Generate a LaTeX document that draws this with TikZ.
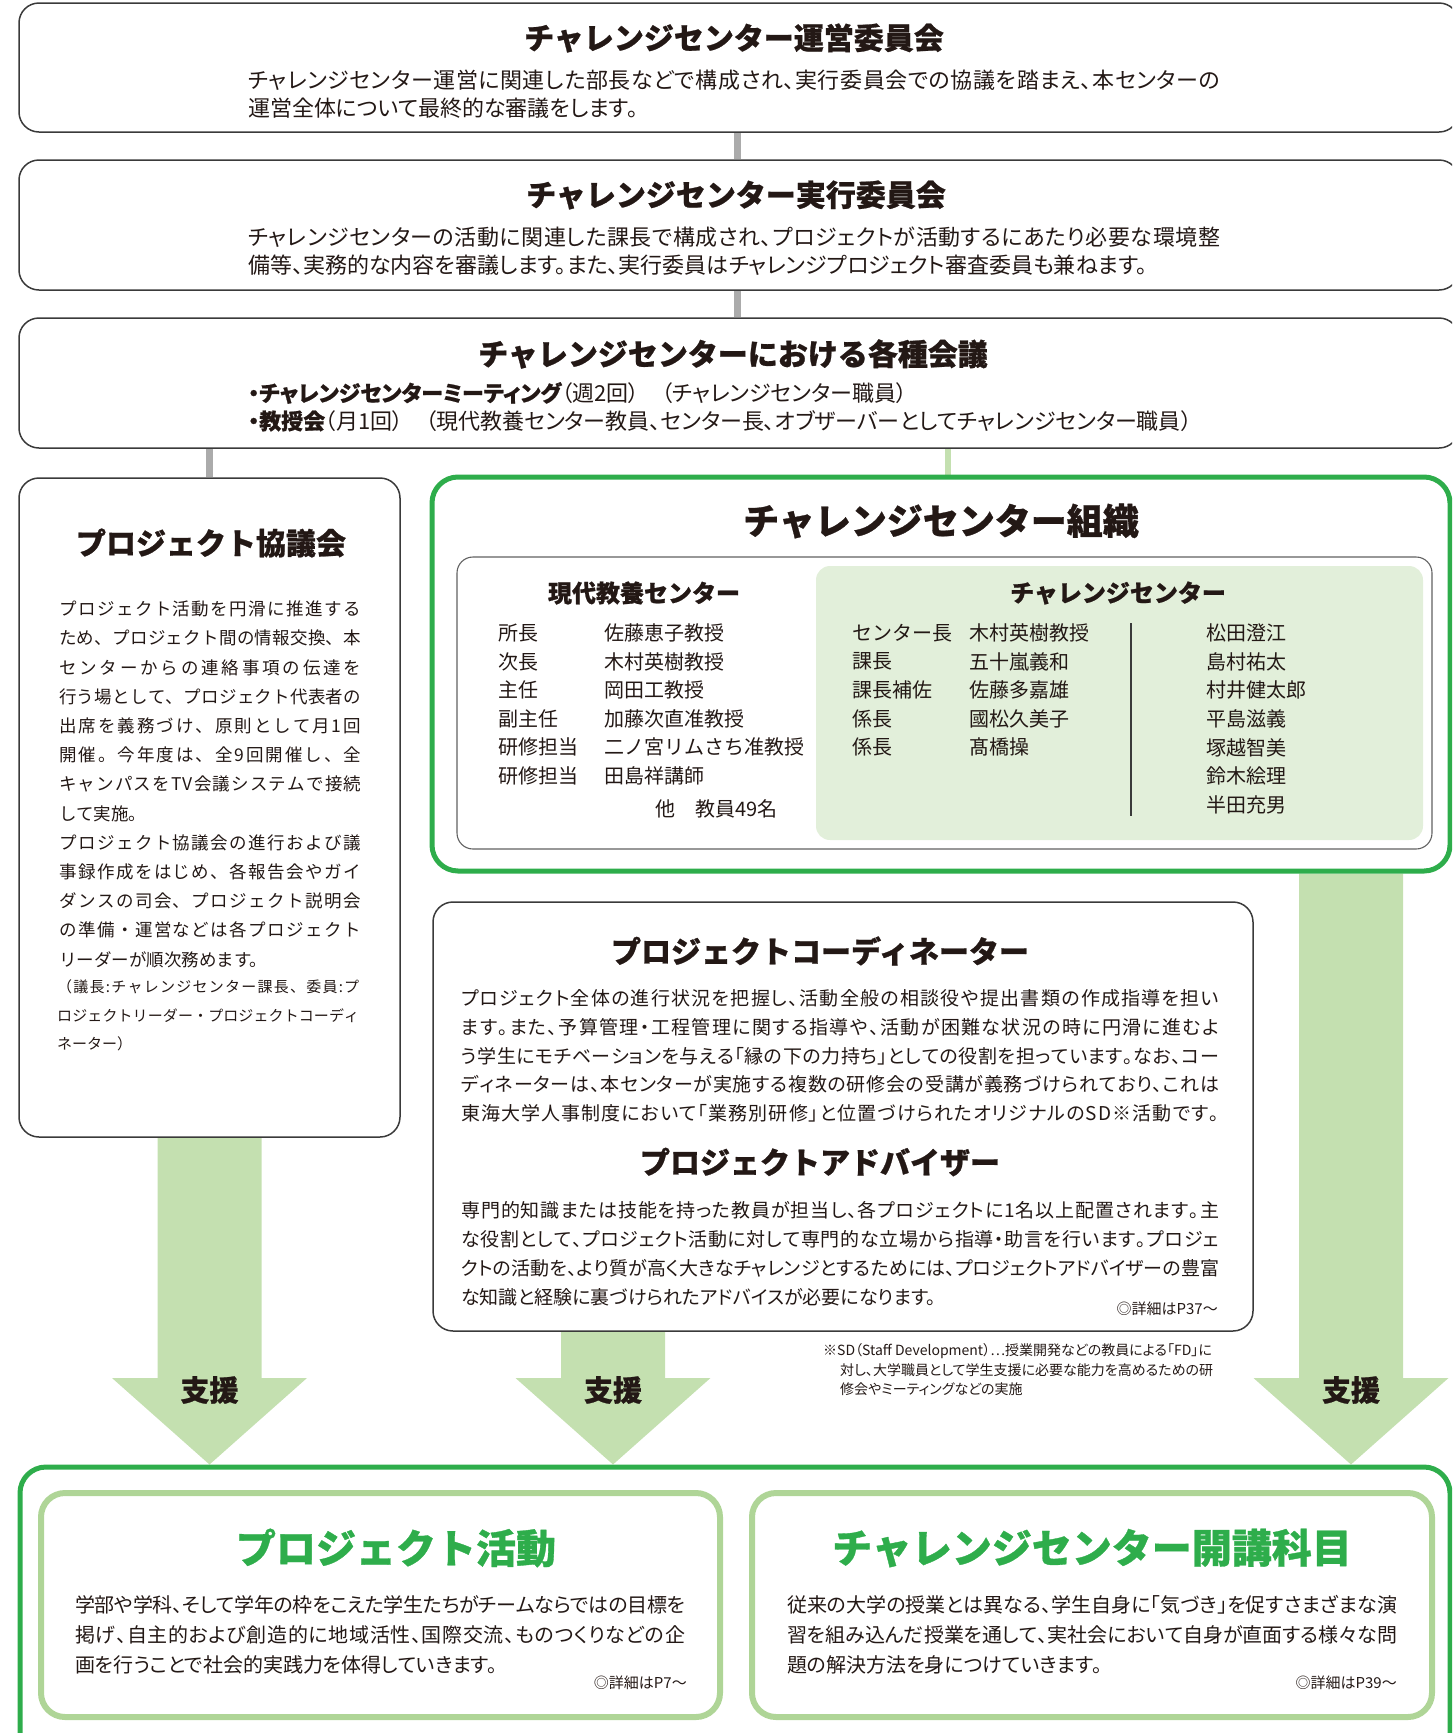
\documentclass[tikz,border=0pt]{standalone}
\usepackage{fontspec}
\setmainfont{Noto Sans CJK JP}[BoldFeatures={FakeBold=0.8}]
\newfontfamily\jpp{Noto Sans CJK JP}[RawFeature=+palt, BoldFeatures={FakeBold=0.8}]
\usetikzlibrary{calc}
\definecolor{ink}{HTML}{231815}
\definecolor{boxline}{HTML}{3A3A3A}
\definecolor{conngray}{HTML}{ABABAB}
\definecolor{brightgreen}{HTML}{2EAD4B}
\definecolor{softgreen}{HTML}{AFD597}
\definecolor{arrowgreen}{HTML}{C4E0B0}
\definecolor{palegreen}{HTML}{E2EFDA}
\newskip\jsk \jsk=0pt plus 1fil minus 1pt
\makeatletter
\def\spr@ad#1{\ifx#1\relax\else#1\hskip\jsk\expandafter\spr@ad\fi}
\newcommand\jl[2]{\hbox to #1{\spr@ad#2\relax\unskip}}
\makeatother
\pgfdeclarelayer{bg}
\pgfsetlayers{bg,main}
\begin{document}
\begin{tikzpicture}[x=1pt,y=-1pt,
  every node/.style={text=ink, inner sep=0pt},
  box/.style={draw=boxline, line width=1.5pt, rounded corners=20pt, rectangle},
  gbox/.style={draw=brightgreen, line width=5pt, rounded corners=26pt, rectangle},
  ibox/.style={draw=boxline!80, line width=1.1pt, rounded corners=16pt, rectangle},
  pbox/.style={fill=palegreen, rounded corners=14pt, rectangle},
  sbox/.style={draw=softgreen, line width=6pt, rounded corners=24pt, rectangle},
  conn/.style={draw=conngray, line width=7pt},
  gconn/.style={draw=arrowgreen, line width=6pt},
  ttl/.style={font=\fontsize{30}{30}\selectfont\bfseries},
  bigttl/.style={font=\fontsize{36}{36}\selectfont\bfseries},
  secttl/.style={font=\fontsize{24}{24}\selectfont\bfseries},
  gttl/.style={font=\fontsize{40}{40}\selectfont\bfseries, text=brightgreen},
  shien/.style={font=\fontsize{29}{29}\selectfont\bfseries},
  bd/.style={font=\jpp\fontsize{22}{22}\selectfont, anchor=west},
  gd/.style={font=\jpp\fontsize{20}{20}\selectfont, anchor=west},
  cd/.style={font=\jpp\fontsize{19}{19}\selectfont, anchor=west},
  kd/.style={font=\fontsize{17.5}{17.5}\selectfont, anchor=west},
  ks/.style={font=\fontsize{15}{15}\selectfont, anchor=west},
  nm/.style={font=\fontsize{20}{20}\selectfont, anchor=west},
  fn/.style={font=\jpp\fontsize{14}{14}\selectfont, anchor=west},
  ref/.style={font=\jpp\fontsize{15}{15}\selectfont, anchor=east}]
\useasboundingbox (0,0) rectangle (1452,1733);
\clip (0,0) rectangle (1452,1733);

% ---------- boxes ----------
\node[box, minimum width=1440pt, minimum height=129pt] (b1) at (739,67.5) {};
\node[box, minimum width=1440pt, minimum height=130pt] (b2) at (739,225) {};
\node[box, minimum width=1440pt, minimum height=130pt] (b3) at (739,383) {};
\node[box, minimum width=381pt, minimum height=659pt] (kyo) at (209.5,807.5) {};
\node[gbox, minimum width=1018pt, minimum height=394pt] (org) at (941,674) {};
\node[pbox, minimum width=607pt, minimum height=274pt] (pale) at (1119.5,703) {};
\node[ibox, minimum width=975pt, minimum height=292pt] (inner) at (944.5,703) {};
\node[box, minimum width=820pt, minimum height=429pt] (coord) at (843,1116.5) {};
\node[gbox, minimum width=1430pt, minimum height=293pt] (bot) at (735,1613.5) {};
\node[sbox, minimum width=679pt, minimum height=224pt] (pa) at (380.5,1605) {};
\node[sbox, minimum width=680pt, minimum height=224pt] (cc) at (1092,1605) {};

% ---------- connectors ----------
\coordinate (cx) at (737,0);
\coordinate (gx) at (948,0);
\coordinate (hb) at (0,1378);
\coordinate (a1) at (kyo.south);
\coordinate (a2) at ($(coord.south)+(-230,0)$);
\coordinate (a3) at ($(org.south)+(410,0)$);
\begin{pgfonlayer}{bg}
\draw[conn] (b1.south -| cx) -- (b2.north -| cx);
\draw[conn] (b2.south -| cx) -- (b3.north -| cx);
\draw[conn] (b3.south -| kyo.north) -- (kyo.north);
\draw[gconn] (b3.south -| gx) -- (org.north -| gx);
\foreach \a in {a1,a2,a3}{
  \fill[arrowgreen] ($(\a)+(-52,0)$) -- ($(\a)+(52,0)$) -- ($(\a |- hb)+(52,0)$)
    -- ($(\a |- hb)+(97.5,0)$) -- (\a |- bot.north) -- ($(\a |- hb)+(-97.5,0)$)
    -- ($(\a |- hb)+(-52,0)$) -- cycle;
}
\end{pgfonlayer}
\node[shien] (s1) at ($(a1 |- hb)+(0,12)$) {支援};
\node[shien] (s2) at ($(a2 |- hb)+(0,12)$) {支援};
\node[shien] (s3) at ($(a3 |- hb)+(0,12)$) {支援};

% ---------- top boxes ----------
\node[ttl] (t1) at (734,38) {チャレンジセンター運営委員会};
\node[bd] (t1a) at (248,80) {\jl{972pt}{チャレンジセンター運営に関連した部長などで構成され、実行委員会での協議を踏まえ、本センターの}};
\node[bd] (t1b) at (248,108) {運営全体について最終的な審議をします。};

\node[ttl] (t2) at (736,195) {チャレンジセンター実行委員会};
\node[bd] (t2a) at (248,237) {\jl{972pt}{チャレンジセンターの活動に関連した課長で構成され、プロジェクトが活動するにあたり必要な環境整}};
\node[bd] (t2b) at (248,265) {備等、実務的な内容を審議します。また、実行委員はチャレンジプロジェクト審査委員も兼ねます。};

\node[ttl] (t3) at (733,354) {チャレンジセンターにおける各種会議};
\node[bd] (t3a) at (248,393) {{\bfseries ・チャレンジセンターミーティング}（週2回）　（チャレンジセンター職員）};
\node[bd] (t3b) at (248,421) {{\bfseries ・教授会}（月1回）　（現代教養センター教員、センター長、オブザーバーとしてチャレンジセンター職員）};

% ---------- project council ----------
\node[ttl] (k0) at (211,543) {プロジェクト協議会};
\node[kd] (k1) at (59,609) {\jl{302pt}{プロジェクト活動を円滑に推進する}};
\node[kd] (k2) at (59,638.2) {\jl{302pt}{ため、プロジェクト間の情報交換、本}};
\node[kd] (k3) at (59,667.4) {\jl{302pt}{センターからの連絡事項の伝達を}};
\node[kd] (k4) at (59,696.6) {\jl{302pt}{行う場として、プロジェクト代表者の}};
\node[kd] (k5) at (59,725.8) {\jl{302pt}{出席を義務づけ、原則として月1回}};
\node[kd] (k6) at (59,755) {\jl{302pt}{開催。今年度は、全9回開催し、全}};
\node[kd] (k7) at (59,784.2) {\jl{302pt}{キャンパスをTV会議システムで接続}};
\node[kd] (k8) at (59,813.4) {して実施。};
\node[kd] (k9) at (59,842.6) {\jl{302pt}{プロジェクト協議会の進行および議}};
\node[kd] (k10) at (59,871.8) {\jl{302pt}{事録作成をはじめ、各報告会やガイ}};
\node[kd] (k11) at (59,901) {\jl{302pt}{ダンスの司会、プロジェクト説明会}};
\node[kd] (k12) at (59,930.2) {\jl{302pt}{の準備・運営などは各プロジェクト}};
\node[kd] (k13) at (59,959.4) {リーダーが順次務めます。};
\node[ks] (k14) at (57,987) {\jl{302pt}{（議長:チャレンジセンター課長、委員:プ}};
\node[ks] (k15) at (57,1015.5) {\jl{302pt}{ロジェクトリーダー・プロジェクトコーディ}};
\node[ks] (k16) at (57,1044) {ネーター）};

% ---------- organisation ----------
\node[bigttl] (o0) at (941,521) {チャレンジセンター組織};
\node[secttl] (o1) at (644,593) {現代教養センター};
\node[secttl] (o2) at (1118,593) {チャレンジセンター};
\node[nm] (l1) at (498,633) {所長};
\node[nm] (l2) at (498,661.6) {次長};
\node[nm] (l3) at (498,690.2) {主任};
\node[nm] (l4) at (498,718.8) {副主任};
\node[nm] (l5) at (498,747.4) {研修担当};
\node[nm] (l6) at (498,776) {研修担当};
\node[nm] (n1) at (604,633) {佐藤恵子教授};
\node[nm] (n2) at (604,661.6) {木村英樹教授};
\node[nm] (n3) at (604,690.2) {岡田工教授};
\node[nm] (n4) at (604,718.8) {加藤次直准教授};
\node[nm] (n5) at (604,747.4) {二ノ宮リムさち准教授};
\node[nm] (n6) at (604,776) {田島祥講師};
\node[nm] (n7) at (655,809) {他　教員49名};
\node[nm] (r1) at (852,633) {センター長};
\node[nm] (r2) at (852,661.6) {課長};
\node[nm] (r3) at (852,690.2) {課長補佐};
\node[nm] (r4) at (852,718.8) {係長};
\node[nm] (r5) at (852,747.4) {係長};
\node[nm] (p1) at (969,633) {木村英樹教授};
\node[nm] (p2) at (969,661.6) {五十嵐義和};
\node[nm] (p3) at (969,690.2) {佐藤多嘉雄};
\node[nm] (p4) at (969,718.8) {國松久美子};
\node[nm] (p5) at (969,747.4) {髙橋操};
\node[nm] (q1) at (1206,633) {松田澄江};
\node[nm] (q2) at (1206,661.6) {島村祐太};
\node[nm] (q3) at (1206,690.2) {村井健太郎};
\node[nm] (q4) at (1206,718.8) {平島滋義};
\node[nm] (q5) at (1206,747.4) {塚越智美};
\node[nm] (q6) at (1206,776) {鈴木絵理};
\node[nm] (q7) at (1206,804.6) {半田充男};
\coordinate (vtop) at (1131,623);
\coordinate (vbot) at (1131,816);
\draw[boxline, line width=1.2pt] (vtop) -- (vbot);

% ---------- coordinator / adviser ----------
\node[ttl] (c0) at (820,951) {プロジェクトコーディネーター};
\node[cd] (c1) at (461,998) {\jl{758pt}{プロジェクト全体の進行状況を把握し、活動全般の相談役や提出書類の作成指導を担い}};
\node[cd] (c2) at (461,1027) {\jl{758pt}{ます。また、予算管理・工程管理に関する指導や、活動が困難な状況の時に円滑に進むよ}};
\node[cd] (c3) at (461,1056) {\jl{758pt}{う学生にモチベーションを与える「縁の下の力持ち」としての役割を担っています。なお、コー}};
\node[cd] (c4) at (461,1084.5) {\jl{758pt}{ディネーターは、本センターが実施する複数の研修会の受講が義務づけられており、これは}};
\node[cd] (c5) at (461,1113) {\jl{758pt}{東海大学人事制度において「業務別研修」と位置づけられたオリジナルのSD※活動です。}};
\node[ttl] (d0) at (820,1162) {プロジェクトアドバイザー};
\node[cd] (d1) at (461,1210) {\jl{758pt}{専門的知識または技能を持った教員が担当し、各プロジェクトに1名以上配置されます。主}};
\node[cd] (d2) at (461,1239) {\jl{758pt}{な役割として、プロジェクト活動に対して専門的な立場から指導・助言を行います。プロジェ}};
\node[cd] (d3) at (461,1268) {\jl{758pt}{クトの活動を、より質が高く大きなチャレンジとするためには、プロジェクトアドバイザーの豊富}};
\node[cd] (d4) at (461,1297) {な知識と経験に裏づけられたアドバイスが必要になります。};
\node[ref] (d5) at (1218,1309) {◎詳細はP37〜};

% ---------- footnote ----------
\node[fn] (f1) at (823,1351) {※SD（Staff Development）…授業開発などの教員による「FD」に};
\node[fn] (f2) at (840,1370) {対し、大学職員として学生支援に必要な能力を高めるための研};
\node[fn] (f3) at (840,1389) {修会やミーティングなどの実施};

% ---------- bottom ----------
\node[gttl] (g1) at (396,1548) {プロジェクト活動};
\node[gd] (g1a) at (75,1605) {\jl{610pt}{学部や学科、そして学年の枠をこえた学生たちがチームならではの目標を}};
\node[gd] (g1b) at (75,1635) {\jl{610pt}{掲げ、自主的および創造的に地域活性、国際交流、ものつくりなどの企}};
\node[gd] (g1c) at (75,1665) {画を行うことで社会的実践力を体得していきます。};
\node[ref] (g1d) at (687,1683) {◎詳細はP7〜};
\node[gttl] (g2) at (1092,1548) {チャレンジセンター開講科目};
\node[gd] (g2a) at (787,1605) {\jl{610pt}{従来の大学の授業とは異なる、学生自身に「気づき」を促すさまざまな演}};
\node[gd] (g2b) at (787,1635) {\jl{610pt}{習を組み込んだ授業を通して、実社会において自身が直面する様々な問}};
\node[gd] (g2c) at (787,1665) {題の解決方法を身につけていきます。};
\node[ref] (g2d) at (1397,1683) {◎詳細はP39〜};
\end{tikzpicture}
\end{document}
